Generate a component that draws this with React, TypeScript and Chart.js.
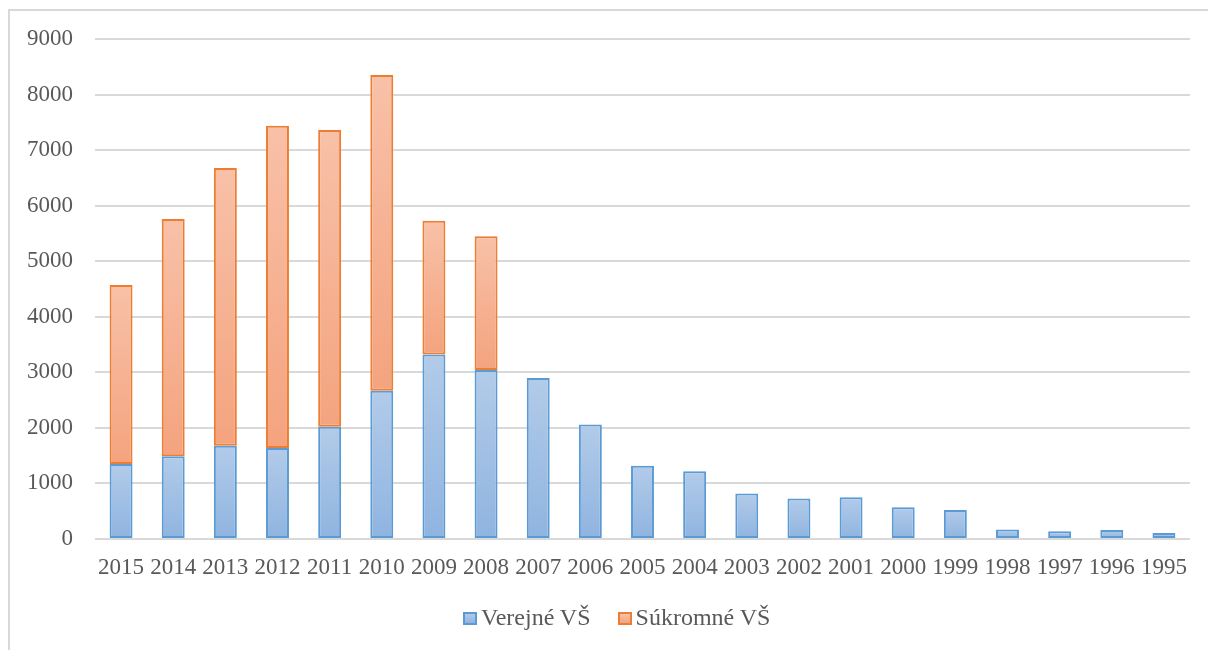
import React, { useEffect, useRef } from "react";
import { Chart, registerables } from "chart.js";

Chart.register(...registerables);

const years = ["2015", "2014", "2013", "2012", "2011", "2010", "2009", "2008", "2007", "2006", "2005", "2004", "2003", "2002", "2001", "2000", "1999", "1998", "1997", "1996", "1995"];
const verejne = [1350, 1490, 1680, 1640, 2020, 2670, 3320, 3040, 2900, 2060, 1320, 1220, 820, 730, 750, 570, 520, 170, 140, 160, 110];
const sukromne = [3220, 4270, 5000, 5800, 5340, 5680, 2410, 2410, null, null, null, null, null, null, null, null, null, null, null, null, null];
const yTicks = [0, 1000, 2000, 3000, 4000, 5000, 6000, 7000, 8000, 9000];
const seriesNames = ["Verejné VŠ", "Súkromné VŠ"];

const FONT = "'Liberation Serif', 'Times New Roman', serif";
const TEXT = "#595959";
const BLUE_BORDER = "#5B9BD5";
const BLUE_TOP = "#B2CBE9";
const BLUE_BOTTOM = "#8FB4E0";
const ORANGE_BORDER = "#ED7D31";
const ORANGE_TOP = "#F8C1A8";
const ORANGE_BOTTOM = "#F4A37E";

function gradientFor(ctx: any, start: number, end: number, top: string, bottom: string) {
  const chart = ctx.chart;
  const y = chart.scales && chart.scales.y;
  if (!y || !chart.chartArea) return bottom;
  const pTop = y.getPixelForValue(end);
  const pBottom = y.getPixelForValue(start);
  if (!isFinite(pTop) || !isFinite(pBottom) || pTop === pBottom) return bottom;
  const g = chart.ctx.createLinearGradient(0, pTop, 0, pBottom);
  g.addColorStop(0, top);
  g.addColorStop(1, bottom);
  return g;
}

export default function App() {
  const ref = useRef<HTMLCanvasElement>(null);

  useEffect(() => {
    if (!ref.current) return;
    const chart = new Chart(ref.current, {
      type: "bar",
      data: {
        labels: years,
        datasets: [
          {
            label: seriesNames[0],
            data: verejne,
            borderColor: BLUE_BORDER,
            borderWidth: 2,
            borderSkipped: false,
            backgroundColor: (c: any) => {
              const i = c.dataIndex;
              if (i === undefined) return BLUE_BOTTOM;
              return gradientFor(c, 0, verejne[i] ?? 0, BLUE_TOP, BLUE_BOTTOM);
            },
            barPercentage: 0.44,
            categoryPercentage: 1,
          },
          {
            label: seriesNames[1],
            data: sukromne,
            borderColor: ORANGE_BORDER,
            borderWidth: 2,
            borderSkipped: false,
            backgroundColor: (c: any) => {
              const i = c.dataIndex;
              if (i === undefined) return ORANGE_BOTTOM;
              const s = verejne[i] ?? 0;
              return gradientFor(c, s, s + (sukromne[i] ?? 0), ORANGE_TOP, ORANGE_BOTTOM);
            },
            barPercentage: 0.44,
            categoryPercentage: 1,
          },
        ],
      },
      options: {
        animation: false,
        responsive: false,
        maintainAspectRatio: false,
        layout: { padding: { top: 28, right: 18, left: 0, bottom: 71 } },
        plugins: {
          legend: { display: false },
          tooltip: { enabled: false },
        },
        scales: {
          x: {
            stacked: true,
            grid: { display: false, drawTicks: false },
            border: { display: false },
            ticks: {
              color: TEXT,
              font: { family: FONT, size: 23 },
              padding: 15,
              maxRotation: 0,
              minRotation: 0,
              autoSkip: false,
            },
            afterFit: (s: any) => {
              s.height = 40;
            },
          },
          y: {
            stacked: true,
            min: 0,
            max: 9000,
            afterBuildTicks: (s: any) => {
              s.ticks = yTicks.map((v) => ({ value: v }));
            },
            grid: { color: "#D9D9D9", lineWidth: 2, drawTicks: false },
            border: { display: false },
            ticks: {
              color: TEXT,
              font: { family: FONT, size: 23 },
              padding: 22,
              callback: (v: any) => String(v),
            },
            afterFit: (s: any) => {
              s.width = 85;
              s.paddingTop = 0;
              s.paddingBottom = 0;
            },
          },
        },
      },
    } as any);
    return () => chart.destroy();
  }, []);

  const legendItem = (name: string, top: string, bottom: string, border: string, gapAfter: number) => (
    <div key={name} style={{ display: "flex", alignItems: "center", marginRight: gapAfter }}>
      <div
        style={{
          width: 14,
          height: 13,
          boxSizing: "border-box",
          border: `2px solid ${border}`,
          background: `linear-gradient(${top}, ${bottom})`,
          marginRight: 4,
          position: "relative",
          top: 1,
        }}
      />
      <span>{name}</span>
    </div>
  );

  return (
    <div
      style={{
        position: "fixed",
        left: 8,
        top: 9,
        width: 1198,
        height: 639,
        borderTop: "2px solid #D9D9D9",
        borderLeft: "2px solid #D9D9D9",
        background: "#fff",
      }}
    >
      <canvas ref={ref} width={1198} height={639} style={{ display: "block", width: 1198, height: 639 }} />
      <div
        style={{
          position: "absolute",
          left: 453,
          top: 593,
          display: "flex",
          fontFamily: FONT,
          fontSize: 24,
          lineHeight: "26px",
          color: TEXT,
          whiteSpace: "nowrap",
        }}
      >
        {legendItem(seriesNames[0], BLUE_TOP, BLUE_BOTTOM, BLUE_BORDER, 27)}
        {legendItem(seriesNames[1], ORANGE_TOP, ORANGE_BOTTOM, ORANGE_BORDER, 0)}
      </div>
    </div>
  );
}
